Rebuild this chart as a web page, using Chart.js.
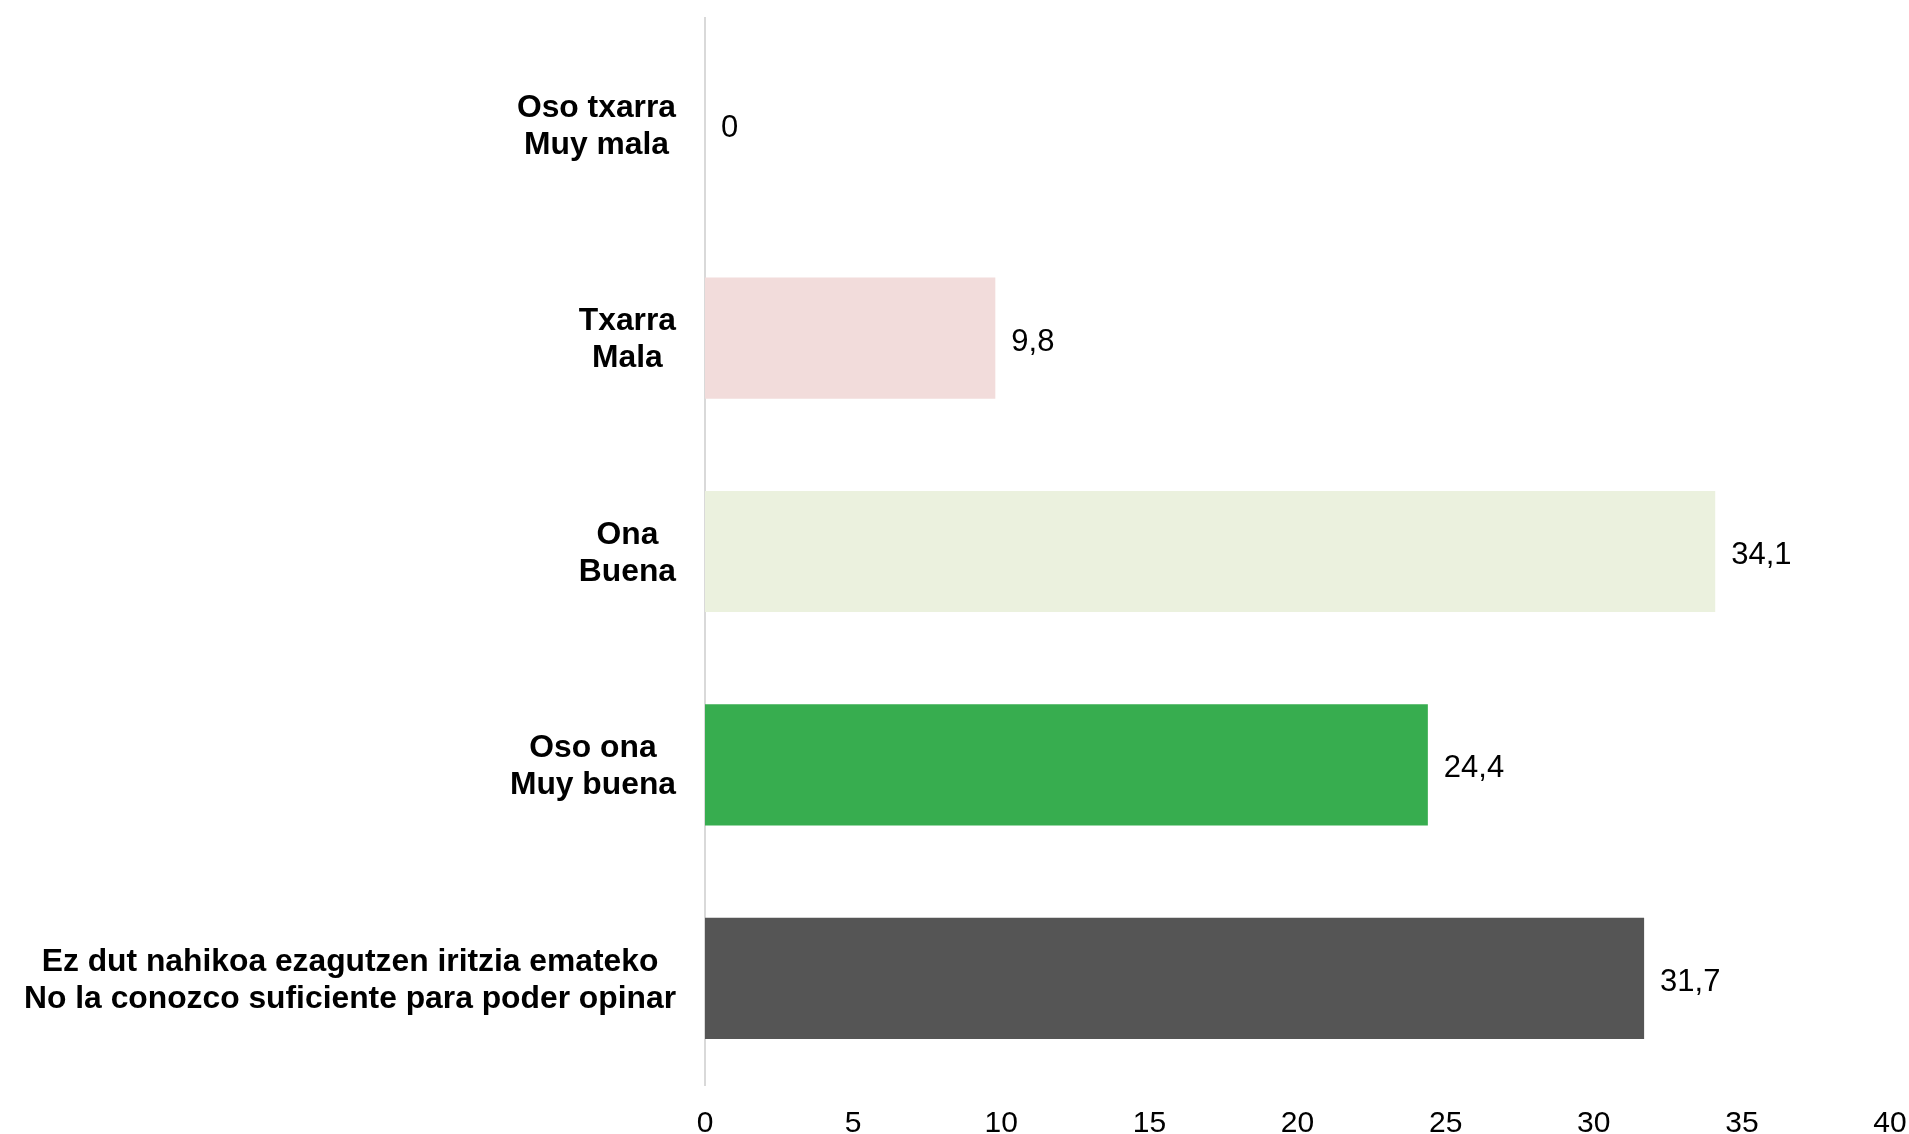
<!DOCTYPE html>
<html>
<head>
<meta charset="utf-8">
<script src="https://cdn.jsdelivr.net/npm/chart.js@4.4.1/dist/chart.umd.min.js"></script>
<style>
  html, body { margin: 0; padding: 0; background: #ffffff; }
  #wrap { width: 1909px; height: 1134px; }
</style>
</head>
<body>
<div id="wrap"><canvas id="chart"></canvas></div>
<script>
const categories = [
  ["Oso txarra", "Muy mala"],
  ["Txarra", "Mala"],
  ["Ona", "Buena"],
  ["Oso ona", "Muy buena"],
  ["Ez dut nahikoa ezagutzen iritzia emateko", "No la conozco suficiente para poder opinar"],
];
const values = [0, 9.8, 34.1, 24.4, 31.7];
const barColors = ["#f2dcdb", "#f2dcdb", "#ebf1de", "#37ad4f", "#555555"];
const xTicks = [0, 5, 10, 15, 20, 25, 30, 35, 40];

const FONT = "Liberation Sans, Arial, Helvetica, sans-serif";

function fmt(v) {
  return String(v).replace(".", ",");
}

// category labels: block right-aligned next to axis, lines centred inside the block
const categoryLabels = {
  id: "categoryLabels",
  afterDraw(chart) {
    const ctx = chart.ctx;
    const y = chart.scales.y;
    ctx.save();
    ctx.font = "bold 31.8px " + FONT;
    ctx.fillStyle = "#000000";
    ctx.textAlign = "center";
    ctx.textBaseline = "middle";
    const lineH = 37;
    categories.forEach((lines, i) => {
      const cy = y.getPixelForTick(i) + 2;
      const w = Math.max(...lines.map((l) => ctx.measureText(l).width));
      const cx = y.right - 29 - w / 2;
      const top = cy - ((lines.length - 1) * lineH) / 2;
      lines.forEach((l, j) => ctx.fillText(l, cx, top + j * lineH));
    });
    ctx.restore();
  },
};

const valueLabels = {
  id: "valueLabels",
  afterDatasetsDraw(chart) {
    const ctx = chart.ctx;
    const meta = chart.getDatasetMeta(0);
    ctx.save();
    ctx.font = "31px " + FONT;
    ctx.fillStyle = "#000000";
    ctx.textAlign = "left";
    ctx.textBaseline = "middle";
    meta.data.forEach((bar, i) => {
      ctx.fillText(fmt(values[i]), bar.x + 16, bar.y + 4);
    });
    ctx.restore();
  },
};

new Chart(document.getElementById("chart"), {
  type: "bar",
  data: {
    labels: categories.map((c) => c.join(" ")),
    datasets: [
      {
        data: values,
        backgroundColor: barColors,
        borderWidth: 0,
        categoryPercentage: 1,
        barPercentage: 0.568,
      },
    ],
  },
  options: {
    indexAxis: "y",
    responsive: true,
    maintainAspectRatio: false,
    animation: false,
    layout: { padding: { top: 18, right: 19, left: 0, bottom: 0 } },
    plugins: {
      legend: { display: false },
      tooltip: { enabled: false },
    },
    scales: {
      x: {
        min: 0,
        max: 40,
        afterBuildTicks(scale) {
          scale.ticks = xTicks.map((v) => ({ value: v }));
        },
        afterFit(scale) {
          scale.height = 49;
          scale.paddingLeft = 0;
          scale.paddingRight = 0;
        },
        grid: { display: false, drawTicks: false },
        border: { display: false },
        ticks: {
          color: "#000000",
          font: { family: FONT, size: 30 },
          padding: 21,
          maxRotation: 0,
        },
      },
      y: {
        afterFit(scale) {
          scale.width = 705;
        },
        grid: { display: false, drawTicks: false },
        border: { display: true, color: "#d9d9d9", width: 2 },
        ticks: { display: false },
      },
    },
  },
  plugins: [categoryLabels, valueLabels],
});
</script>
</body>
</html>
